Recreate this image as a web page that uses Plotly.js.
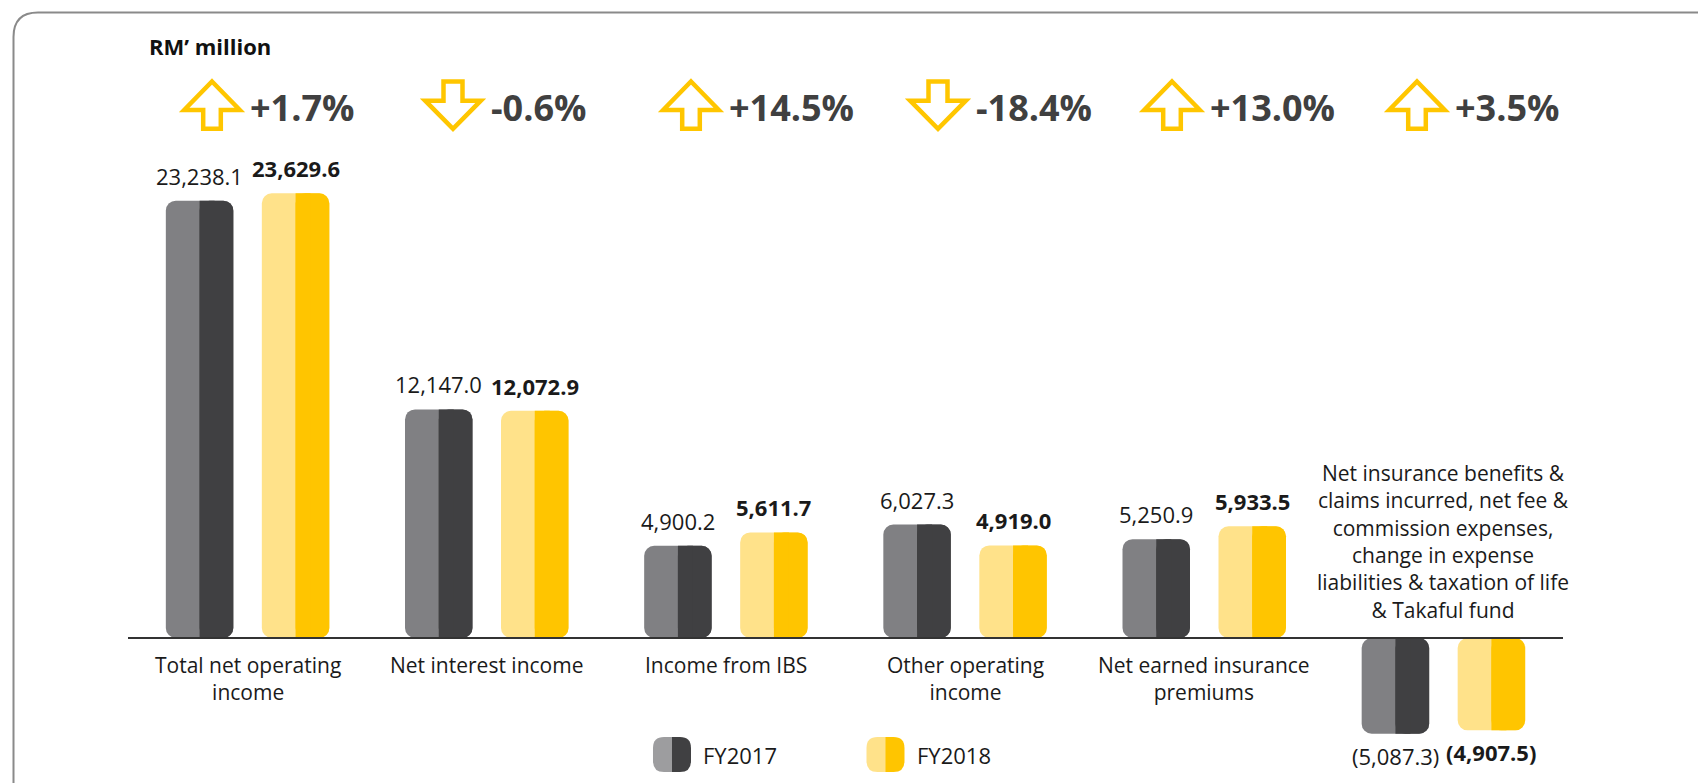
<!DOCTYPE html>
<html><head><meta charset="utf-8">
<script src="https://cdn.plot.ly/plotly-3.0.1.min.js"></script>
<style>html,body{margin:0;padding:0;background:#fff;} #chart{width:1698px;height:783px;}</style>
</head><body><div id="chart"></div>
<script>
// ---------------- data ----------------
const categories = [
  'Total net operating income',
  'Net interest income',
  'Income from IBS',
  'Other operating income',
  'Net earned insurance premiums',
  'Net insurance benefits & claims incurred, net fee & commission expenses, change in expense liabilities & taxation of life & Takaful fund'
];
const categoryLabels = [
  'Total net operating<br>income',
  'Net interest income',
  'Income from IBS',
  'Other operating<br>income',
  'Net earned insurance<br>premiums',
  'Net insurance benefits &<br>claims incurred, net fee &<br>commission expenses,<br>change in expense<br>liabilities & taxation of life<br>& Takaful fund'
];
const fy2017 = [23238.1, 12147.0, 4900.2, 6027.3, 5250.9, -5087.3];
const fy2018 = [23629.6, 12072.9, 5611.7, 4919.0, 5933.5, -4907.5];
const changePct = [1.7, -0.6, 14.5, -18.4, 13.0, 3.5];
const seriesNames = ['FY2017', 'FY2018'];
const unitLabel = 'RM’ million';

// ---------------- layout constants ----------------
const W = 1698, H = 783;
const M = {l: 128, r: 135, t: 70, b: 10};
const plotW = W - M.l - M.r, plotH = H - M.t - M.b;
const baselinePx = 638, pxPerUnit = 0.01882;
const yRange = [-(H - M.b - baselinePx) / pxPerUnit, (baselinePx - M.t) / pxPerUnit];
const catPx = plotW / categories.length;
const barW = 67.5 / catPx;
const offs = [-48 / catPx, 48 / catPx];
const stripW = 15 / catPx;
const R = 10;
const FONT = '"Open Sans", "Noto Sans", sans-serif';
const colors = [
  {light: '#808083', dark: '#404042', legLight: '#9d9d9f'},
  {light: '#FFE28A', dark: '#FFC500', legLight: '#FFE28A'}
];
const textColor = '#1a1a1a';
const pctColor = '#404040';
const arrowColor = '#FFC600';
const arrowLeftPx = [182, 423, 661, 908, 1142, 1387];
const arrowTop = 81.5, arrowBottom = 128.8, arrowHead = 110, arrowHeadDown = 100.7;

const px2x = px => (px - M.l) / plotW;
const py2y = py => (H - M.b - py) / plotH;
const P = (px, py) => px2x(px).toFixed(5) + ',' + py2y(py).toFixed(5);

// ---------------- traces ----------------
const series = [fy2017, fy2018];
const traces = [];
series.forEach((vals, s) => {
  const off = offs[s], c = colors[s];
  const common = {type: 'bar', x: categories, hoverinfo: 'skip', showlegend: false, name: seriesNames[s]};
  // light full-width body (explicit base -> all four corners rounded)
  traces.push(Object.assign({}, common, {y: vals, base: vals.map(() => 0),
    offset: off - barW / 2, width: barW, marker: {color: c.light, cornerradius: R}}));
  // dark right half
  traces.push(Object.assign({}, common, {y: vals, base: vals.map(() => 0),
    offset: off, width: barW / 2, marker: {color: c.dark, cornerradius: R}}));
  // square strip at the split (keeps the split edge straight)
  traces.push(Object.assign({}, common, {y: vals,
    offset: off, width: stripW, marker: {color: c.dark, cornerradius: 0}}));
});

// ---------------- annotations ----------------
const fmt = v => {
  const s = Math.abs(v).toLocaleString('en-US', {minimumFractionDigits: 1, maximumFractionDigits: 1});
  return v < 0 ? '(' + s + ')' : s;
};
const annotations = [];
series.forEach((vals, s) => {
  vals.forEach((v, i) => {
    annotations.push({
      x: i + offs[s], y: v, xref: 'x', yref: 'y', showarrow: false,
      text: s === 1 ? '<b>' + fmt(v) + '</b>' : fmt(v),
      xanchor: 'center', yanchor: v >= 0 ? 'bottom' : 'top', yshift: v >= 0 ? 8 : -5,
      font: {family: FONT, size: 22, color: textColor}
    });
  });
});
categories.forEach((c, i) => {
  const neg = Math.min(fy2017[i], fy2018[i]) < 0;
  annotations.push({
    x: i, y: 0, xref: 'x', yref: 'y', showarrow: false, text: categoryLabels[i],
    xanchor: 'center', yanchor: neg ? 'bottom' : 'top', yshift: neg ? 12 : -11, align: 'center',
    font: {family: FONT, size: 21, color: textColor}
  });
});
// header: unit label
annotations.push({x: px2x(147), y: py2y(46), xref: 'paper', yref: 'paper', showarrow: false,
  text: '<b>' + unitLabel + '</b>', xanchor: 'left', yanchor: 'middle',
  font: {family: FONT, size: 22, color: '#111'}});
// change percentages
changePct.forEach((p, i) => {
  annotations.push({x: px2x(arrowLeftPx[i] + 66), y: py2y(107), xref: 'paper', yref: 'paper', showarrow: false,
    text: '<b>' + (p > 0 ? '+' : '') + p.toFixed(1) + '%</b>', xanchor: 'left', yanchor: 'middle',
    font: {family: FONT, size: 36, color: pctColor}});
});
// legend text
const legendIconPx = [653, 866.5];
seriesNames.forEach((n, s) => {
  annotations.push({x: px2x(legendIconPx[s] + 48), y: py2y(755), xref: 'paper', yref: 'paper', showarrow: false,
    text: n, xanchor: 'left', yanchor: 'middle', font: {family: FONT, size: 22, color: textColor}});
});

// ---------------- shapes ----------------
const shapes = [];
// outer frame (top-left rounded corner)
shapes.push({type: 'path', xref: 'paper', yref: 'paper', layer: 'below',
  path: 'M' + P(13.5, 790) + ' L' + P(13.5, 37) + ' Q' + P(13.5, 12.5) + ' ' + P(38, 12.5) + ' L' + P(1705, 12.5),
  line: {color: '#8a8a8a', width: 2}, fillcolor: 'rgba(0,0,0,0)'});
// baseline
shapes.push({type: 'line', xref: 'paper', yref: 'y', x0: 0, x1: 1, y0: 0, y1: 0, layer: 'above',
  line: {color: '#333333', width: 1.8}});
// arrows
changePct.forEach((p, i) => {
  const L = arrowLeftPx[i] + 2.2, Rr = arrowLeftPx[i] + 57.8, C = arrowLeftPx[i] + 30;
  let d;
  if (p > 0) {
    d = 'M' + P(C, arrowTop) + ' L' + P(Rr, arrowHead) + ' L' + P(C + 8.8, arrowHead) + ' L' + P(C + 8.8, arrowBottom) +
        ' L' + P(C - 8.8, arrowBottom) + ' L' + P(C - 8.8, arrowHead) + ' L' + P(L, arrowHead) + ' Z';
  } else {
    d = 'M' + P(C - 9.5, arrowTop) + ' L' + P(C + 9.5, arrowTop) + ' L' + P(C + 9.5, arrowHeadDown) + ' L' + P(Rr, arrowHeadDown) +
        ' L' + P(C, arrowBottom) + ' L' + P(L, arrowHeadDown) + ' L' + P(C - 9.5, arrowHeadDown) + ' Z';
  }
  shapes.push({type: 'path', xref: 'paper', yref: 'paper', path: d,
    line: {color: arrowColor, width: 4.5}, fillcolor: 'rgba(0,0,0,0)'});
});
// legend icons (two-tone rounded pills)
const halfPill = (x0, x1, y0, y1, r, side) => {
  if (side === 'left') {
    return 'M' + P(x1, y0) + ' L' + P(x0 + r, y0) + ' Q' + P(x0, y0) + ' ' + P(x0, y0 + r) + ' L' + P(x0, y1 - r) +
      ' Q' + P(x0, y1) + ' ' + P(x0 + r, y1) + ' L' + P(x1, y1) + ' Z';
  }
  return 'M' + P(x0, y0) + ' L' + P(x1 - r, y0) + ' Q' + P(x1, y0) + ' ' + P(x1, y0 + r) + ' L' + P(x1, y1 - r) +
    ' Q' + P(x1, y1) + ' ' + P(x1 - r, y1) + ' L' + P(x0, y1) + ' Z';
};
legendIconPx.forEach((x0, s) => {
  const y0 = 737, y1 = 772, mid = x0 + 19, x1 = x0 + 38;
  shapes.push({type: 'path', xref: 'paper', yref: 'paper', path: halfPill(x0, mid + 0.5, y0, y1, 11, 'left'),
    line: {width: 0}, fillcolor: colors[s].legLight});
  shapes.push({type: 'path', xref: 'paper', yref: 'paper', path: halfPill(mid, x1, y0, y1, 11, 'right'),
    line: {width: 0}, fillcolor: colors[s].dark});
});

const layout = {
  width: W, height: H, margin: M,
  paper_bgcolor: '#ffffff', plot_bgcolor: 'rgba(0,0,0,0)',
  barmode: 'overlay', showlegend: false,
  xaxis: {type: 'category', range: [-0.5, categories.length - 0.5], visible: false, fixedrange: true},
  yaxis: {range: yRange, visible: false, zeroline: false, showgrid: false, fixedrange: true},
  annotations: annotations, shapes: shapes,
  font: {family: FONT}
};
Plotly.newPlot('chart', traces, layout, {displayModeBar: false, staticPlot: true});
</script>
</body></html>
